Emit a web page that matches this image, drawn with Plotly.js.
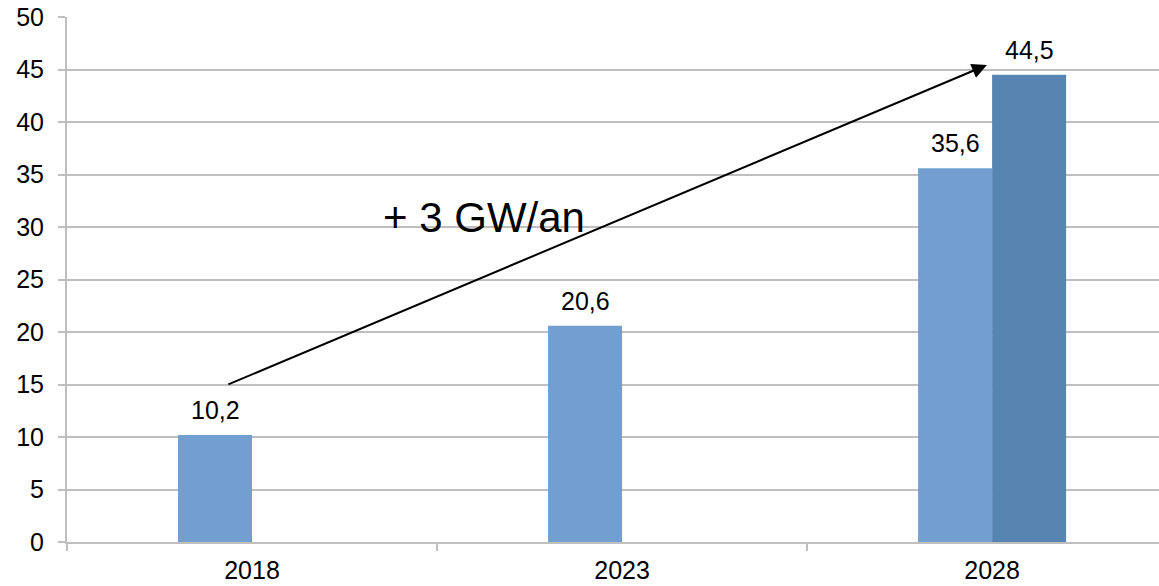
<!DOCTYPE html>
<html>
<head>
<meta charset="utf-8">
<script src="https://cdn.plot.ly/plotly-3.0.1.min.js"></script>
<style>html,body{margin:0;padding:0;background:#fff;}#chart{width:1159px;height:586px;}</style>
</head>
<body>
<div id="chart"></div>
<script>
var categories = ['2018', '2023', '2028'];
var seriesA = [10.2, 20.6, 35.6];
var seriesB = [null, null, 44.5];
var yTicks = [0, 5, 10, 15, 20, 25, 30, 35, 40, 45, 50];
var arrowStart = [-0.068, 14.95];
var arrowEnd = [1.986, 45.43];
var arrowLabel = '+ 3 GW/an';
var arrowLabelPos = [0.627, 30.9];

function fmt(v) { return String(v).replace('.', ','); }

var FONT = 'Liberation Sans, Arial, sans-serif';
var traces = [
  { type: 'bar', x: categories, y: seriesA, marker: { color: '#729fcf' }, hoverinfo: 'none' },
  { type: 'bar', x: categories, y: seriesB, marker: { color: '#5884b2' }, hoverinfo: 'none' }
];

var annotations = [];
[[seriesA, -37], [seriesB, 37]].forEach(function (s) {
  s[0].forEach(function (v, i) {
    if (v === null) return;
    annotations.push({
      x: i, y: v, xref: 'x', yref: 'y', text: fmt(v), showarrow: false,
      xshift: s[1], yanchor: 'bottom', yshift: 9,
      font: { family: FONT, size: 25, color: '#000' }
    });
  });
});
annotations.push({
  x: arrowEnd[0], y: arrowEnd[1], ax: arrowStart[0], ay: arrowStart[1],
  xref: 'x', yref: 'y', axref: 'x', ayref: 'y', text: '', showarrow: true,
  arrowhead: 2, arrowsize: 1.5, arrowwidth: 2, arrowcolor: '#000'
});
annotations.push({
  x: arrowLabelPos[0], y: arrowLabelPos[1], xref: 'x', yref: 'y', text: arrowLabel,
  showarrow: false, font: { family: FONT, size: 42, color: '#000' }
});

var layout = {
  width: 1159, height: 586,
  margin: { l: 67, r: 0, t: 17, b: 44, pad: 0 },
  paper_bgcolor: '#fff', plot_bgcolor: '#fff',
  showlegend: false,
  barmode: 'group', bargap: 0.6, bargroupgap: 0,
  font: { family: FONT, size: 25, color: '#000' },
  xaxis: {
    type: 'category', range: [-0.5, 2.451], showgrid: false, zeroline: false,
    showline: true, linecolor: '#bfbfbf', linewidth: 2,
    ticks: 'outside', tickson: 'boundaries', ticklen: 7, tickwidth: 2, tickcolor: '#bfbfbf',
    ticklabelstandoff: 5,
    tickfont: { family: FONT, size: 25, color: '#000' }
  },
  yaxis: {
    range: [0, 50], tickmode: 'array', tickvals: yTicks, ticktext: yTicks.map(String),
    showgrid: true, gridcolor: '#bfbfbf', gridwidth: 2, zeroline: false,
    showline: true, linecolor: '#bfbfbf', linewidth: 2,
    ticks: 'outside', ticklen: 7, tickwidth: 2, tickcolor: '#bfbfbf',
    ticklabelstandoff: 9,
    tickfont: { family: FONT, size: 25, color: '#000' }
  },
  annotations: annotations
};

Plotly.newPlot('chart', traces, layout, { staticPlot: true, displayModeBar: false });
</script>
</body>
</html>
